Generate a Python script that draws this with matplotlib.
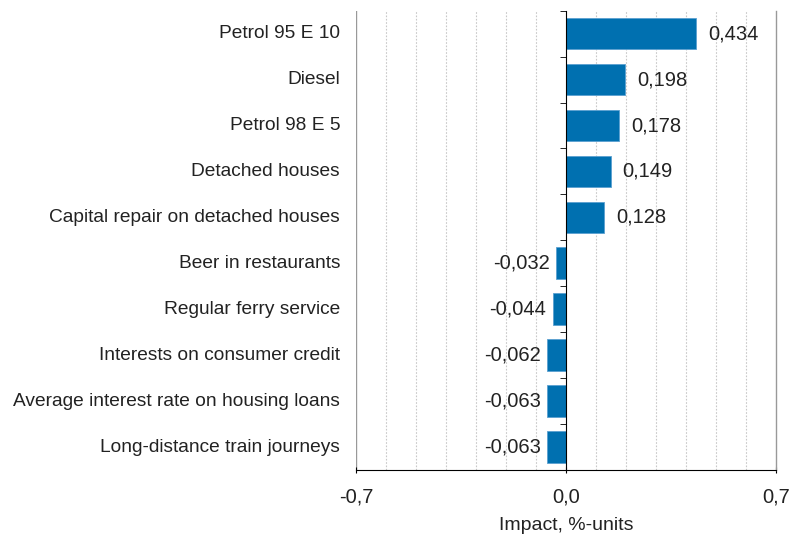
import matplotlib.pyplot as plt
import numpy as np

plt.rcParams['font.family'] = ['Liberation Sans', 'DejaVu Sans']

# Datos
categories = ['Petrol 95 E 10', 'Diesel', 'Petrol 98 E 5', 'Detached houses',
              'Capital repair on detached houses', 'Beer in restaurants',
              'Regular ferry service', 'Interests on consumer credit',
              'Average interest rate on housing loans', 'Long-distance train journeys']
values = [0.434, 0.198, 0.178, 0.149, 0.128, -0.032, -0.044, -0.062, -0.063, -0.063]
x_ticks = [-0.7, 0.0, 0.7]
x_tick_labels = ['-0,7', '0,0', '0,7']
x_label = 'Impact, %-units'

bar_color = '#0070B0'
text_color = '#222222'

fig = plt.figure(figsize=(7.9, 5.36), dpi=100)
ax = fig.add_axes([0.4506, 0.1231, 0.5314, 0.857])

n = len(categories)
y = np.arange(n)
ax.barh(y, values, height=0.69, color=bar_color, edgecolor='#5aa0d0', linewidth=0.6, zorder=3)

ax.set_xlim(-0.7, 0.7)
ax.set_ylim(n - 0.5, -0.5)

# Rejilla punteada cada 0,1
for g in np.arange(-6, 7):
    if g == 0:
        continue
    ax.axvline(g / 10, color='#c8c8c8', linestyle=(0, (1.5, 1.5)), linewidth=0.8, zorder=1)

ax.spines['top'].set_visible(False)
ax.spines['right'].set_color('#999999')
ax.spines['right'].set_linewidth(1.0)
ax.spines['left'].set_position(('data', 0))
ax.spines['left'].set_color('black')
ax.spines['left'].set_zorder(4)
ax.spines['bottom'].set_color('black')

# Línea gris en -0,7
ax.axvline(-0.7, color='#999999', linewidth=1.0, zorder=1)

ax.set_yticks(y)
ax.set_yticklabels([])
ax.tick_params(axis='y', which='major', length=0)
ax.set_yticks(np.arange(n + 1) - 0.5, minor=True)
ax.tick_params(axis='y', which='minor', length=4, direction='out', color='black')

ax.set_xticks(x_ticks)
ax.set_xticklabels(x_tick_labels, fontsize=14.5, color=text_color)
ax.tick_params(axis='x', length=5, direction='inout', pad=10)
ax.set_xlabel(x_label, fontsize=14, color=text_color, labelpad=8)

# Etiquetas de categorías
for yi, cat in zip(y, categories):
    ax.text(-0.038, yi, cat, transform=ax.get_yaxis_transform(), ha='right',
            va='center', fontsize=13.8, color=text_color)

# Etiquetas de valores
for yi, v in zip(y, values):
    txt = f'{v:.3f}'.replace('.', ',')
    if v >= 0:
        ax.annotate(txt, (v, yi), xytext=(8.5, 0), textcoords='offset points',
                    ha='left', va='center', fontsize=14.5, color=text_color)
    else:
        ax.annotate(txt, (v, yi), xytext=(-4.5, 0), textcoords='offset points',
                    ha='right', va='center', fontsize=14.5, color=text_color)

plt.savefig('out.png', dpi=100)
